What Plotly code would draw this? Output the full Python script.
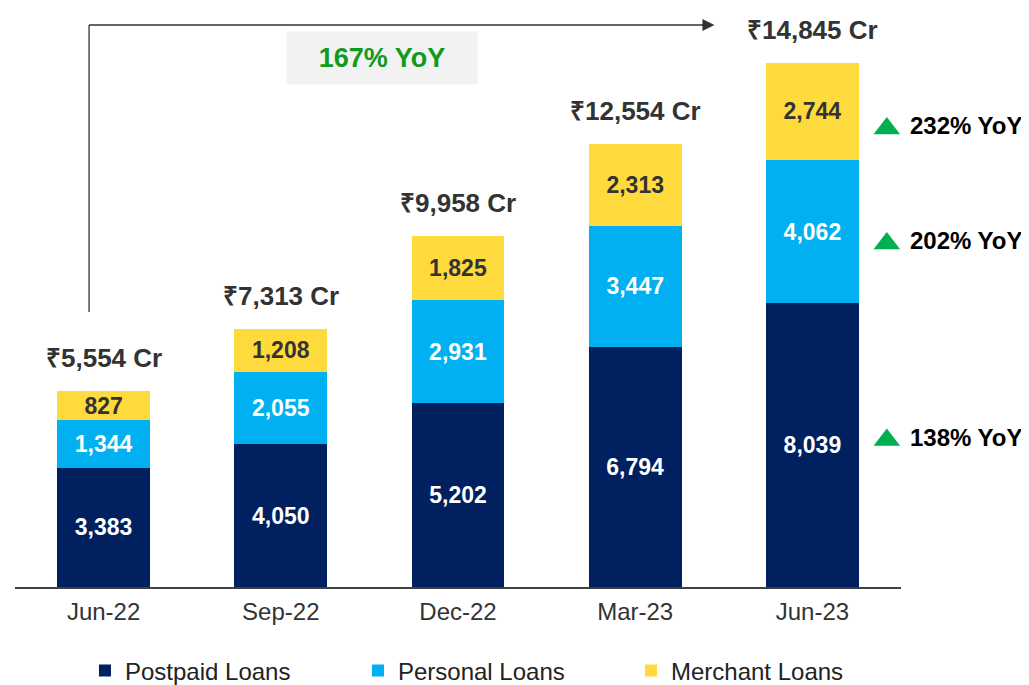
import plotly.graph_objects as go

quarters = ["Jun-22", "Sep-22", "Dec-22", "Mar-23", "Jun-23"]
postpaid = [3383, 4050, 5202, 6794, 8039]
personal = [1344, 2055, 2931, 3447, 4062]
merchant = [827, 1208, 1825, 2313, 2744]
totals = [5554, 7313, 9958, 12554, 14845]
total_labels = ["₹5,554 Cr", "₹7,313 Cr", "₹9,958 Cr", "₹12,554 Cr", "₹14,845 Cr"]
yoy_labels = ["138% YoY", "202% YoY", "232% YoY"]
overall_yoy = "167% YoY"

FONT = "Liberation Sans, Arial, Helvetica, sans-serif"
C_POST = "#002060"
C_PERS = "#00B0F0"
C_MERC = "#FFDA3C"

W, H = 1021, 677
ML, MR, MT, MB = 7, 128, 0, 98
PLOT_H = H - MT - MB
YMAX = 16403
PXU = PLOT_H / YMAX  # pixels per unit

fig = go.Figure()
for name, vals, col, tcol in [
    ("Postpaid Loans", postpaid, C_POST, "white"),
    ("Personal Loans", personal, C_PERS, "white"),
    ("Merchant Loans", merchant, C_MERC, "#333333"),
]:
    fig.add_trace(go.Bar(
        x=quarters, y=vals, name=name, marker=dict(color=col, line=dict(width=0)),
        text=[f"{v:,}" for v in vals], textposition="inside", insidetextanchor="middle",
        textangle=0, textfont=dict(family=FONT, size=23, color=tcol, weight="bold"),
        hoverinfo="skip",
    ))

# total labels
for q, t, lab in zip(quarters, totals, total_labels):
    fig.add_annotation(x=q, y=t, text=lab, showarrow=False, yanchor="bottom", yshift=16,
                       font=dict(family=FONT, size=26, color="#333333", weight="bold"))

# YoY on right for last bar segments
last = len(quarters) - 1
seg_centers = [postpaid[last] / 2,
               postpaid[last] + personal[last] / 2,
               postpaid[last] + personal[last] + merchant[last] / 2]
shifts = [8, -9, -14]
tri_x, tri_y = [], []
for yc, lab, sh in zip(seg_centers, yoy_labels, shifts):
    fig.add_annotation(xref="paper", x=1.0, y=yc, text="<b>" + lab + "</b>", showarrow=False,
                       xanchor="left", xshift=7, yshift=sh,
                       font=dict(family=FONT, size=24, color="#000000"))
    tri_x.append(0.984)
    tri_y.append(yc + (sh - 3) / PXU)
fig.add_trace(go.Scatter(x=tri_x, y=tri_y, xaxis="x2", yaxis="y", mode="markers",
                         showlegend=False, hoverinfo="skip", cliponaxis=False,
                         marker=dict(symbol="triangle-up", size=23, color="#00B050",
                                     line=dict(width=0))))

# overall growth arrow
def py(page_y):
    return (PLOT_H - (page_y - 8)) / PLOT_H

YA = py(25)
fig.add_shape(type="line", xref="x", yref="paper", x0=-0.082, x1=-0.082, y0=py(312),
              y1=YA, line=dict(color="#333333", width=1.3))
fig.add_shape(type="line", xref="x", yref="paper", x0=-0.082, x1=3.40, y0=YA,
              y1=YA, line=dict(color="#333333", width=1.3))
fig.add_annotation(xref="x", yref="paper", x=3.447, y=YA, ax=-14, ay=0,
                   showarrow=True, arrowhead=2, arrowsize=1.5,
                   arrowwidth=1.6, arrowcolor="#333333", text="")
fig.add_annotation(xref="x", yref="paper", x=1.570, y=py(31), text="<b>" + overall_yoy + "</b>",
                   showarrow=False, bgcolor="#F2F2F2", width=190, height=52, borderpad=0,
                   font=dict(family=FONT, size=27, color="#119A1C"))

fig.update_layout(
    barmode="stack", bargap=0.476, width=W, height=H,
    margin=dict(l=ML, r=MR, t=MT, b=MB),
    paper_bgcolor="white", plot_bgcolor="white",
    uniformtext=dict(minsize=23, mode="show"),
    showlegend=True,
    legend=dict(orientation="h", xref="container", yref="container", x=0.0754, y=(H - 663) / H,
                xanchor="left", yanchor="middle", entrywidth=228,
                font=dict(family=FONT, size=24, color="#222222"), traceorder="normal"),
    xaxis=dict(type="category", range=[-0.5, 4.5], showline=True, linecolor="#404040", linewidth=2,
               ticks="", showgrid=False, ticklabelstandoff=2,
               tickfont=dict(family=FONT, size=24, color="#333333")),
    xaxis2=dict(overlaying="x", range=[0, 1], visible=False, showgrid=False, zeroline=False),
    yaxis=dict(range=[0, YMAX], visible=False, showgrid=False, zeroline=False),
)

fig.write_html("out.html")
